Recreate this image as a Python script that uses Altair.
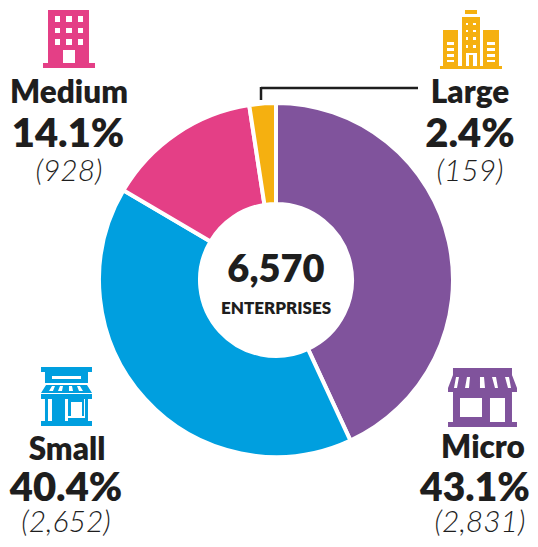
import altair as alt
import pandas as pd

categories = ["Micro", "Small", "Medium", "Large"]
counts = [2831, 2652, 928, 159]
pct_labels = ["43.1%", "40.4%", "14.1%", "2.4%"]
count_labels = ["(2,831)", "(2,652)", "(928)", "(159)"]
colors = ["#80539C", "#009FDF", "#E43F86", "#F5B010"]
total_label = "6,570"
total_caption = "ENTERPRISES"
INK = "#1E1E1E"
FONT = "Lato"

W, H = 522, 531
def X(v): return alt.value(v - 8)
def Y(v): return alt.value(v - 8)

df = pd.DataFrame({"cat": categories, "n": counts, "o": range(4)})
pie = alt.Chart(df).mark_arc(innerRadius=76, outerRadius=177, stroke="white", strokeWidth=4).encode(
    theta=alt.Theta("n:Q", stack=True),
    order=alt.Order("o:Q"),
    color=alt.Color("cat:N", scale=alt.Scale(domain=categories, range=colors), legend=None),
    x=X(276), y=Y(280),
)

def text(s, cx, by, size, weight=800, italic=False, color=INK):
    kw = {}
    if italic:
        kw["fontStyle"] = "italic"
    return alt.Chart(df.head(1)).mark_text(
        font=FONT, fontSize=size, fontWeight=weight,
        align="center", baseline="alphabetic", color=color, **kw
    ).encode(x=X(cx), y=Y(by), text=alt.value(s))

def shapes(items, ox, oy, half):
    out = []
    for it in items:
        if len(it) == 4 and not isinstance(it[0], tuple):
            x0, y0, x1, y1 = it
            pts = [(x0, y0), (x1, y0), (x1, y1), (x0, y1)]
        else:
            pts = it
        seg = "L".join(f"{(x - ox) / half:.3f} {(y - oy) / half:.3f}" for x, y in pts)
        out.append(f"M{seg}Z")
    return "".join(out)

def icon(items, ox, oy, half, color):
    return alt.Chart(df.head(1)).mark_point(
        shape=shapes(items, ox, oy, half), size=(2 * half) ** 2, filled=True, opacity=1, color=color, strokeWidth=0
    ).encode(x=X(ox), y=Y(oy))

def grid(xs, ys):
    return [(x0, y0, x1, y1) for x0, x1 in xs for y0, y1 in ys]

medium_icon = [icon([(48, 10, 89, 63), (43, 63, 95, 68)], 69, 39, 30, colors[2]),
               icon(grid([(55, 60), (66, 72), (78, 83)], [(16, 22), (28, 33), (39, 45)]) + [(63, 50, 75, 63)], 69, 39, 30, "white")]

large_icon = [icon([(462, 17, 480, 66), (465, 10, 477, 14), (443, 30, 458, 66), (483, 30, 499, 66), (440, 66, 502, 69)], 471, 39, 32, colors[3]),
              icon(grid([(447, 454), (487, 495)], [(42, 45), (48, 51), (54, 57), (60, 62)])
                   + grid([(466, 468), (473, 476)], [(23, 25), (30, 32), (37, 40), (45, 48)])
                   + [(466, 53, 477, 55), (466, 55, 469, 66), (473, 55, 477, 66)], 471, 39, 32, "white")]

small_icon = [icon([(41, 367, 92, 372), (45, 372, 88, 383),
                    [(46, 385), (87, 385), (92, 393), (41, 393)],
                    (41, 394, 92, 399), (45, 399, 88, 421), (41, 421, 92, 426)], 67, 397, 32, colors[1]),
              icon([(52, 376, 81, 379),
                    [(52, 386), (55, 386), (53, 391), (49, 391)], [(60, 386), (63, 386), (62, 391), (58, 391)],
                    [(69, 386), (72, 386), (73, 391), (69, 391)], [(77, 386), (80, 386), (83, 391), (79, 391)],
                    (48, 399, 52, 421), (65, 399, 68, 421), (71, 402, 82, 416), (84, 399, 85, 417), (68, 416, 85, 418)], 67, 397, 32, "white")]

micro_icon = [icon([(453, 368, 512, 375), [(453, 375), (512, 375), (517, 388), (517, 392), (448, 392), (448, 388)],
                    (453, 392, 512, 422), (448, 422, 517, 427)], 482, 397, 36, colors[0]),
              icon([(460, 398, 482, 417), (490, 398, 505, 422),
                    [(456, 377), (459, 377), (457, 388), (454, 388)], [(467, 377), (470, 377), (469, 388), (465, 388)],
                    [(480, 377), (484, 377), (485, 388), (480, 388)], [(492, 377), (496, 377), (498, 388), (495, 388)],
                    [(505, 377), (509, 377), (511, 388), (508, 388)],
                    (448, 392, 453, 397), (512, 392, 517, 397)], 482, 397, 36, "white")]

leader = [
    alt.Chart(df.head(1)).mark_rule(color=INK, strokeWidth=2.5).encode(x=X(261), x2=X(418), y=Y(88)),
    alt.Chart(df.head(1)).mark_rule(color=INK, strokeWidth=2.5).encode(x=X(261), y=Y(87), y2=Y(100)),
]

texts = [
    text(categories[2], 69, 103, 31.5), text(pct_labels[2], 68, 147, 40), text(count_labels[2], 69, 181, 30, 300, True),
    text(categories[3], 470, 103, 31.5), text(pct_labels[3], 470, 147, 40), text(count_labels[3], 470, 181, 30, 300, True),
    text(categories[1], 67, 460, 31.5), text(pct_labels[1], 66, 501, 40), text(count_labels[1], 66, 532, 30, 300, True),
    text(categories[0], 483, 458, 31.5), text(pct_labels[0], 475, 501, 39), text(count_labels[0], 480, 532, 30, 300, True),
    text(total_label, 276, 282, 38), text(total_caption, 276, 314, 17),
]

chart = alt.layer(pie, *leader, *medium_icon, *large_icon, *small_icon, *micro_icon, *texts).properties(
    width=W, height=H, padding=0, autosize=alt.AutoSizeParams(type="none"),
).configure_view(stroke=None)
chart.save("out.html", embed_options={"renderer": "svg", "actions": False})
